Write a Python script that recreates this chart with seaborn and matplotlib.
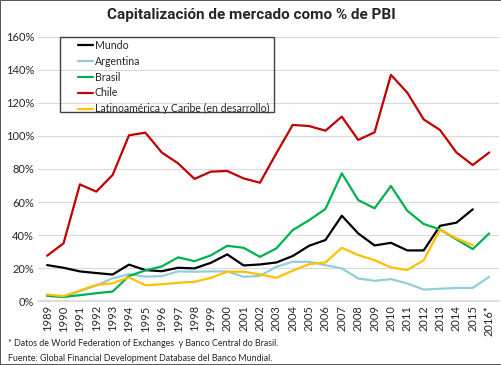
import numpy as np
import pandas as pd
import matplotlib
matplotlib.use("Agg")
import matplotlib.pyplot as plt
from matplotlib.patches import Rectangle
import seaborn as sns

# ------------------------------
# Data (% of GDP)
# ------------------------------
years = list(range(1989, 2017))
year_labels = [str(y) for y in years[:-1]] + ["2016*"]

mundo = [21.8, 20.2, 18.0, 17.0, 16.1, 22.1, 18.8, 18.1, 20.2, 19.8, 23.2, 28.3, 21.6, 22.2,
         23.4, 27.3, 33.5, 37.0, 51.7, 41.0, 33.7, 35.3, 30.7, 30.7, 45.6, 47.5, 55.6, np.nan]
argentina = [3.4, 2.6, 6.0, 9.5, 13.8, 16.3, 14.8, 15.1, 18.0, 17.8, 18.0, 18.0, 14.7, 15.3,
             20.8, 23.8, 23.8, 21.8, 19.8, 13.7, 12.3, 13.3, 10.7, 7.0, 7.5, 8.0, 8.0, 14.7]
brasil = [3.2, 2.5, 3.6, 4.8, 5.8, 15.2, 18.6, 21.0, 26.5, 24.2, 27.7, 33.5, 32.3, 26.8,
          31.9, 43.0, 49.0, 55.8, 77.4, 61.2, 56.2, 69.7, 54.7, 46.7, 43.4, 37.4, 31.5, 41.0]
chile = [27.5, 35.0, 70.7, 66.3, 76.4, 100.4, 102.0, 90.0, 83.4, 74.0, 78.4, 78.8, 74.3, 71.7,
         89.5, 106.7, 106.0, 103.2, 111.7, 97.6, 102.2, 137.0, 126.2, 110.0, 103.6, 90.0, 82.4, 90.0]
latam = [4.0, 3.0, 6.4, 9.8, 10.8, 14.4, 9.6, 10.2, 11.1, 11.7, 14.1, 17.8, 17.8, 16.2,
         14.1, 18.4, 22.4, 23.4, 32.3, 27.9, 24.8, 20.4, 18.8, 24.8, 43.4, 38.0, 33.9, np.nan]

series_names = ["Mundo", "Argentina", "Brasil", "Chile", "Latinoamérica y Caribe (en desarrollo)"]
series_values = [mundo, argentina, brasil, chile, latam]
colors = ["#000000", "#92CDDC", "#00B050", "#C00000", "#FFC000"]

df = pd.concat(
    [pd.DataFrame({"year": years, "value": vals, "serie": name})
     for name, vals in zip(series_names, series_values)],
    ignore_index=True,
)

# ------------------------------
# Figure
# ------------------------------
sns.set_theme(style="white")
plt.rcParams['font.family'] = ['Lato', 'DejaVu Sans']

fig = plt.figure(figsize=(5.02, 3.65), dpi=100)
fig.patch.set_edgecolor("#595959")
fig.patch.set_linewidth(1.2)
ax = fig.add_axes([0.076, 0.175, 0.918, 0.724])

sns.lineplot(data=df, x="year", y="value", hue="serie", hue_order=series_names,
             palette=colors, linewidth=1.6, ax=ax, legend=True)

ax.set_ylim(0, 160)
ax.set_xlim(1989 - 0.55, 2016 + 0.6)
ax.set_yticks(range(0, 161, 20))
ax.set_yticklabels([f"{v}%" for v in range(0, 161, 20)], fontsize=8)
ax.set_xticks(years)
ax.set_xticklabels(year_labels, rotation=90, fontsize=8)
ax.tick_params(axis="both", length=0, pad=3)
ax.grid(axis="y", color="#d9d9d9", linewidth=0.8)
ax.set_axisbelow(True)
for s in ["top", "right", "left"]:
    ax.spines[s].set_visible(False)
ax.spines["bottom"].set_color("#d9d9d9")
ax.set_xlabel("")
ax.set_ylabel("")

# legend without its own frame; box drawn separately (wide left margin like Excel)
handles, labels = ax.get_legend_handles_labels()
leg = ax.legend(handles, labels, loc="upper left", bbox_to_anchor=(0.155, 0.89),
                bbox_transform=fig.transFigure, fontsize=7.6, frameon=False,
                handlelength=1.4, handletextpad=0.2,
                labelspacing=0.45, borderpad=0, borderaxespad=0)
for line in leg.get_lines():
    line.set_linewidth(1.6)
fig.patches.append(Rectangle((0.1195, 0.693), 0.426, 0.2055, transform=fig.transFigure,
                             fill=False, edgecolor="#404040", linewidth=1.0, zorder=5))

title_fonts = ['Noto Sans Condensed ExtraBold', 'Noto Sans Condensed Bold',
               'Noto Sans Condensed', 'Roboto', 'DejaVu Sans']
fig.text(0.5, 0.958, "Capitalización de mercado como % de PBI", ha="center", va="center",
         fontsize=11, fontweight="bold", family=title_fonts)
fig.text(0.016, 0.06, "* Datos de World Federation of Exchanges  y Banco Central do Brasil.",
         ha="left", va="center", fontsize=6.4)
fig.text(0.016, 0.019, "Fuente: Global Financial Development Database del Banco Mundial.",
         ha="left", va="center", fontsize=6.4)

fig.savefig("out.png", dpi=100)
